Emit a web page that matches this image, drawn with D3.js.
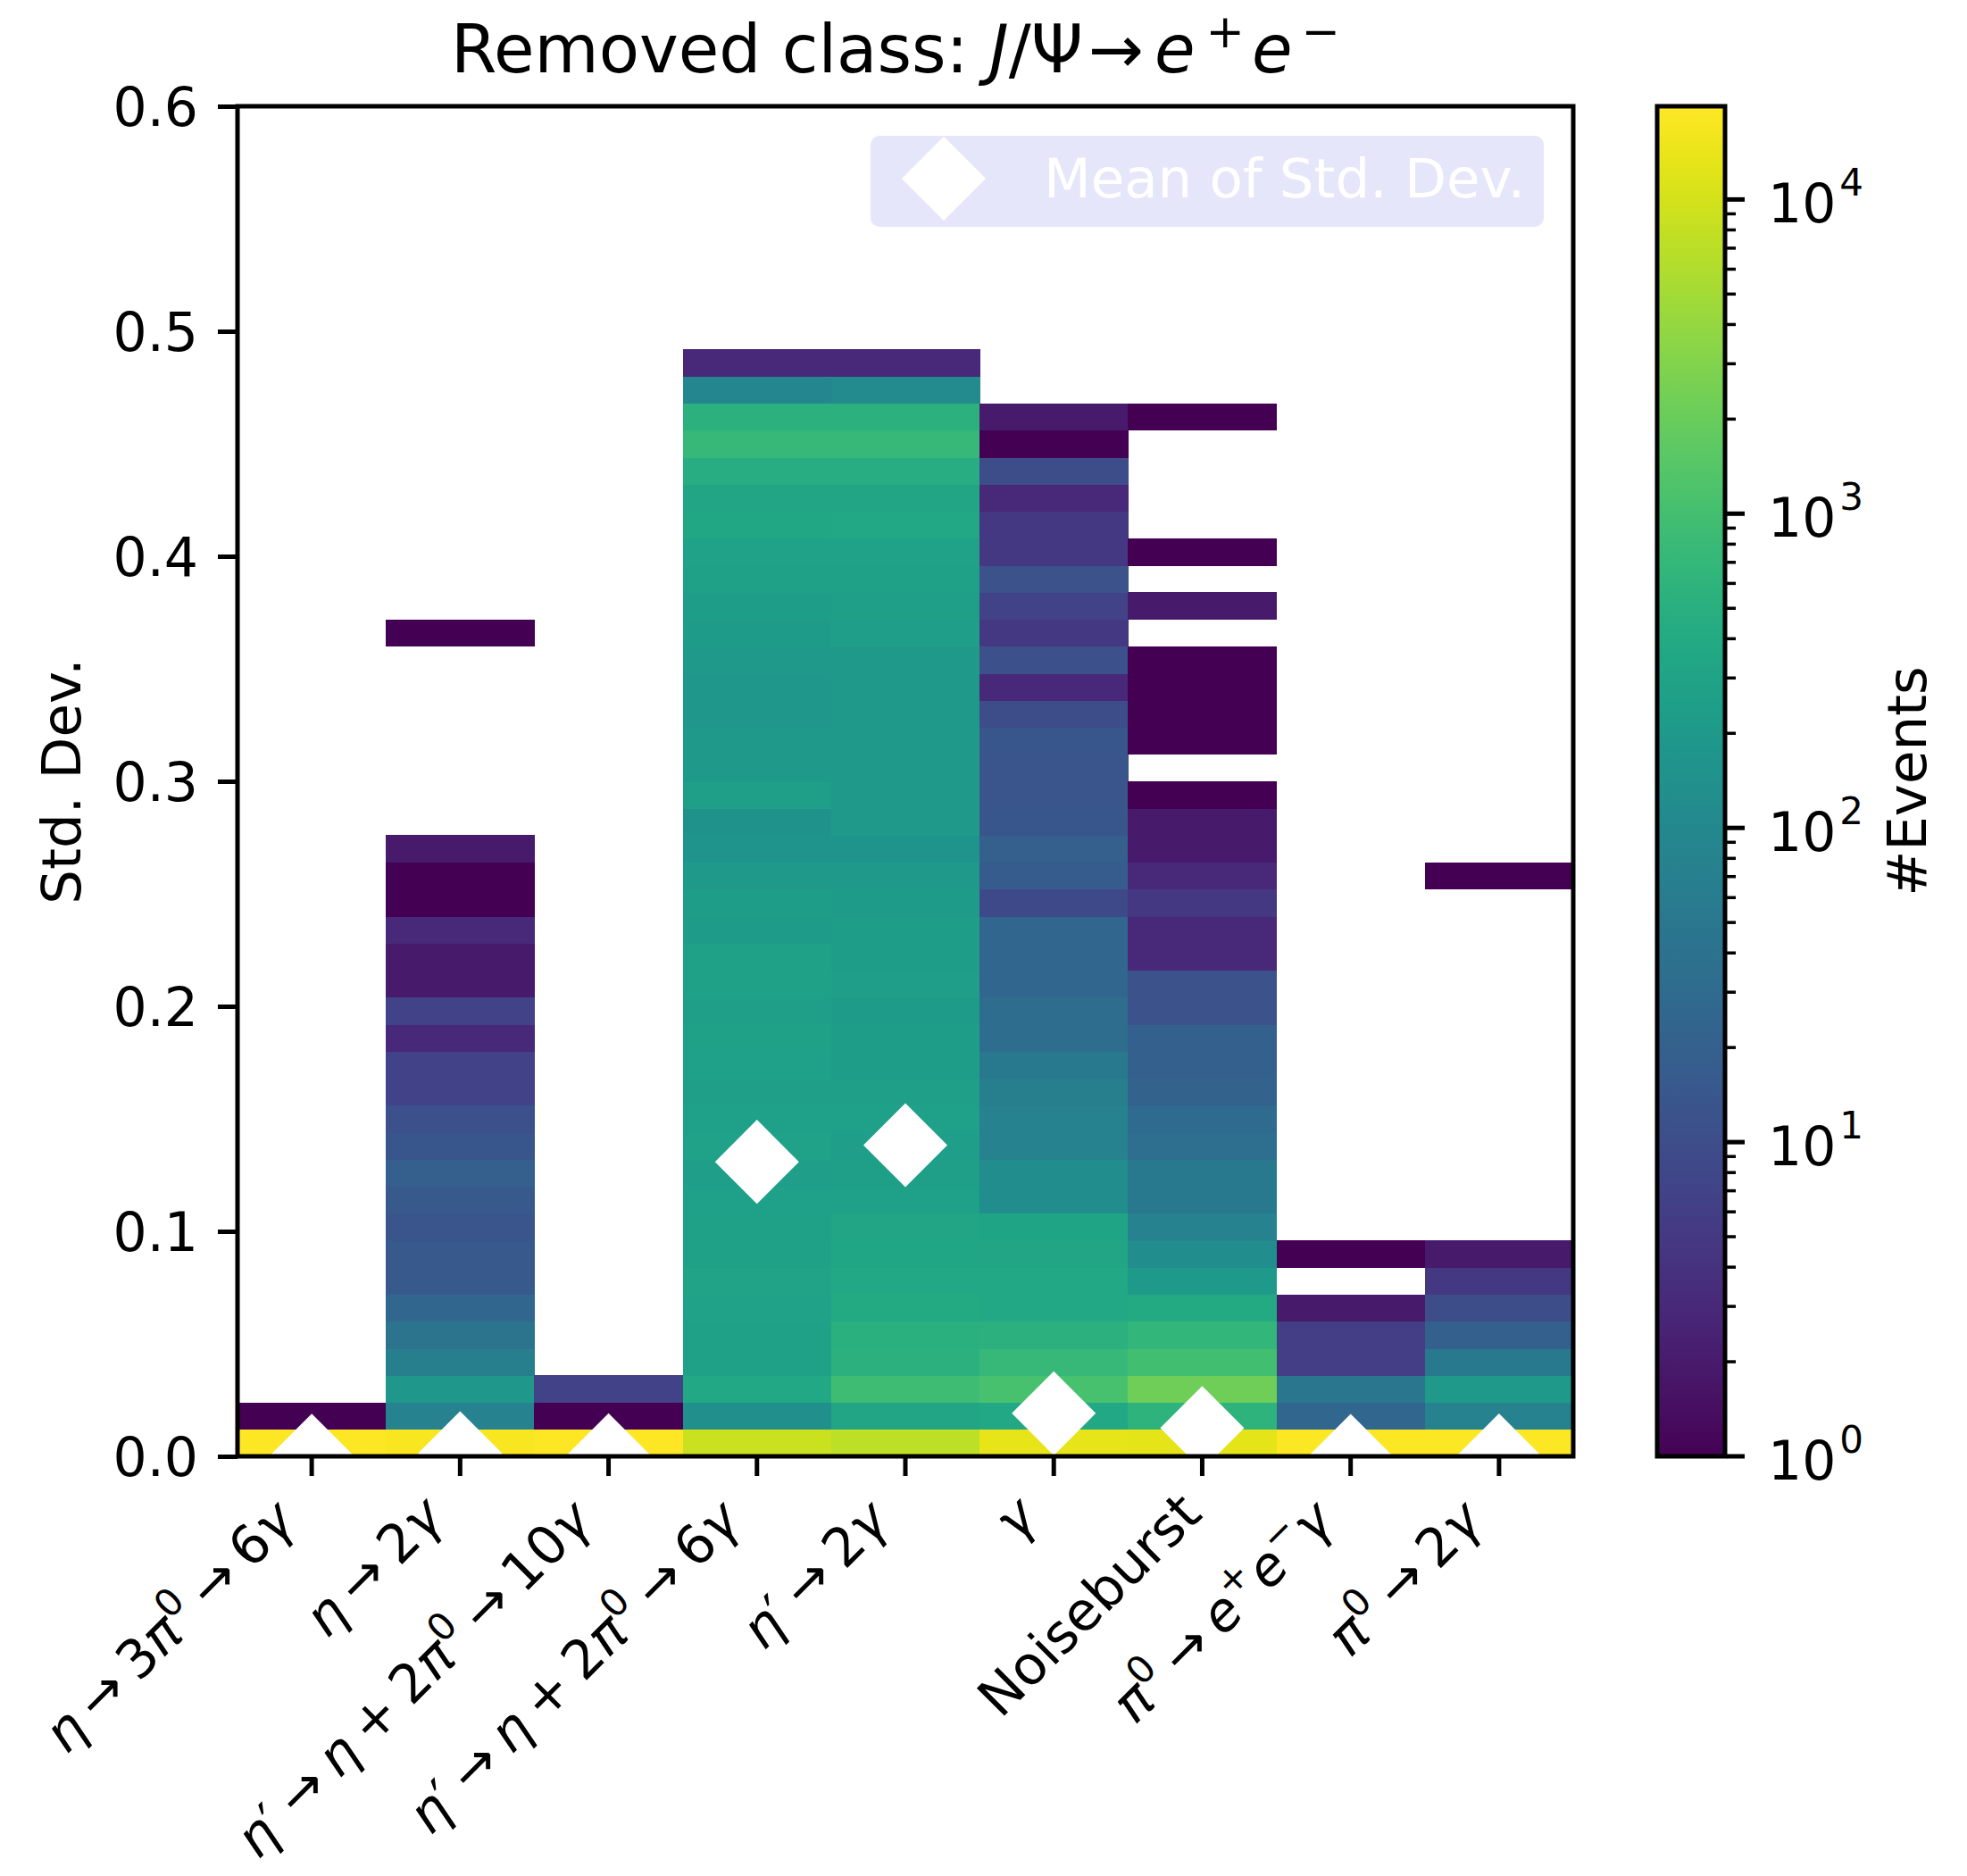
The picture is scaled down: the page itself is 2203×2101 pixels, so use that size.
<!DOCTYPE html>
<html>
<head>
<meta charset="utf-8">
<script src="https://cdn.jsdelivr.net/npm/d3@7"></script>
<style>
  body { margin: 0; background: #ffffff; }
  svg text { font-family: "DejaVu Sans", sans-serif; }
</style>
</head>
<body>
<svg id="chart"></svg>
<script>
// ---- data -------------------------------------------------------------
// event classes (x categories)
const categories = [
  "eta_3pi0_6g", "eta_2g", "etap_eta2pi0_10g", "etap_eta2pi0_6g",
  "etap_2g", "gamma", "noiseburst", "pi0_eeg", "pi0_2g"
];
// tick labels: a leading "$" marks math text, "^" raises the next character
const tickLabels = [
  "$η → 3π^0 → 6γ",
  "$η → 2γ",
  "$η′ → η + 2π^0 → 10γ",
  "$η′ → η + 2π^0 → 6γ",
  "$η′ → 2γ",
  "$γ",
  "Noiseburst",
  "$π^0 → e^+e^−γ",
  "$π^0 → 2γ"
];

// histogram of the per-event standard deviation: bins of width 0.012 starting at 0
const binWidth = 0.012;
const countsEta3Pi0 = [19500, 1];
const countsEta2g = [17800, 78, 190, 70, 43, 26, 15, 15, 13, 15, 19, 14, 11, 7, 7, 3, 7, 2, 2, 3, 1, 1, 2,
  0, 0, 0, 0, 0, 0, 0, 1];
const countsEtaP10g = [19800, 1, 7];
const countsEtaP6g = [8900, 140, 380, 290, 280, 300, 310, 280, 280, 270, 250, 300, 270, 260, 270, 280, 255, 280,
  290, 230, 235, 215, 165, 155, 255, 215, 210, 185, 195, 210, 230, 240, 280, 300, 360, 340, 470, 760, 560, 95, 3];
const countsEtaP2g = [7400, 330, 920, 560, 540, 400, 380, 350, 340, 270, 260, 250, 265, 255, 240, 240, 230, 245,
  240, 240, 230, 210, 170, 215, 215, 215, 215, 200, 210, 210, 250, 260, 280, 300, 380, 340, 470, 760, 560, 110, 3];
const countsGamma = [13500, 380, 1100, 760, 560, 380, 380, 330, 320, 130, 130, 80, 80, 70, 55, 33, 33, 25, 25, 25,
  9, 17, 19, 14, 13, 13, 14, 10, 3, 11, 5, 7, 12, 5, 5, 3, 10, 1, 2];
const countsNoiseburst = [13000, 600, 2200, 1000, 680, 400, 210, 130, 80, 55, 55, 35, 30, 22, 20, 20, 12, 12, 3, 3,
  5, 3, 2, 2, 1, 0, 1, 1, 1, 1, 0, 2, 0, 1, 0, 0, 0, 0, 1];
const countsPi0eeg = [18500, 25, 48, 6, 6, 2, 0, 1];
const countsPi02g = [19000, 80, 210, 55, 20, 10, 5, 2, 0, 0, 0, 0, 0, 0, 0, 0, 0, 0, 0, 0, 0, 1];

// mean of the standard deviation per class
const meanStd = [0.0003, 0.0014, 0.0005, 0.1309, 0.1383, 0.0191, 0.0126, 0.0002, 0.0004];

const yTicks = [0, 0.1, 0.2, 0.3, 0.4, 0.5, 0.6];
const cbarMajorTicks = [1, 10, 100, 1000, 10000];

// ---- layout -----------------------------------------------------------
const W = 2203, H = 2101;
const plot = { left: 266, right: 1762, top: 119, bottom: 1631 };
const cbar = { left: 1856, right: 1932 };
const fsTick = 60, fsLabel = 61, fsTitle = 74;

const svg = d3.select("#chart").attr("width", W).attr("height", H);

const classCounts = [countsEta3Pi0, countsEta2g, countsEtaP10g, countsEtaP6g, countsEtaP2g,
  countsGamma, countsNoiseburst, countsPi0eeg, countsPi02g];

const cells = [];
classCounts.forEach((arr, i) => arr.forEach((c, j) => {
  if (c > 0) cells.push({ cat: categories[i], lo: j * binWidth, hi: (j + 1) * binWidth, count: c });
}));
const vmax = d3.max(cells, d => d.count);

const x = d3.scaleBand().domain(categories).range([plot.left, plot.right]).padding(0);
const y = d3.scaleLinear().domain([0, 0.6]).range([plot.bottom, plot.top]);
const color = d3.scaleSequentialLog(d3.interpolateViridis).domain([1, vmax]);

// clip for everything drawn inside the axes
svg.append("defs").append("clipPath").attr("id", "plotClip")
  .append("rect")
  .attr("x", plot.left).attr("y", plot.top)
  .attr("width", plot.right - plot.left).attr("height", plot.bottom - plot.top);

const inner = svg.append("g").attr("clip-path", "url(#plotClip)");

// 2D histogram cells
inner.append("g").selectAll("rect").data(cells).join("rect")
  .attr("x", d => x(d.cat))
  .attr("width", x.bandwidth() + 0.5)
  .attr("y", d => y(d.hi))
  .attr("height", d => y(d.lo) - y(d.hi) + 0.5)
  .attr("fill", d => color(d.count))
  .attr("shape-rendering", "crispEdges");

// mean markers: squares turned 45 degrees
const diamond = d3.symbol().type(d3.symbolSquare).size(4420);
inner.append("g").selectAll("path").data(meanStd).join("path")
  .attr("d", diamond)
  .attr("transform", (d, i) => `translate(${x(categories[i]) + x.bandwidth() / 2},${y(d)}) rotate(45)`)
  .attr("fill", "#ffffff");

// ---- axes -------------------------------------------------------------
const yAxis = d3.axisLeft(y).tickValues(yTicks).tickFormat(d3.format(".1f"))
  .tickSize(22).tickPadding(22);
const gy = svg.append("g").attr("transform", `translate(${plot.left},0)`).call(yAxis);
gy.select(".domain").remove();
gy.selectAll(".tick line").attr("stroke", "#000").attr("stroke-width", 5);
gy.selectAll(".tick text").attr("font-size", fsTick).attr("font-family", "DejaVu Sans")
  .attr("fill", "#000").attr("dy", "0.35em");

const xAxis = d3.axisBottom(x).tickSize(22).tickFormat("");
const gx = svg.append("g").attr("transform", `translate(0,${plot.bottom})`).call(xAxis);
gx.select(".domain").remove();
gx.selectAll(".tick line").attr("stroke", "#000").attr("stroke-width", 5);
gx.selectAll(".tick text").remove();

// writes a label string into a <text>, handling italics, raised characters
// and the narrower spacing of math text
function writeRich(textSel, str, fs, supScale, supRise, gap) {
  const math = str.startsWith("$");
  const s = math ? str.slice(1) : str;
  const runs = [];
  const chars = Array.from(s);
  let pendingGap = 0;
  for (let k = 0; k < chars.length; k++) {
    let ch = chars[k], sup = false;
    if (math && ch === " ") { pendingGap += gap; continue; }
    if (math && ch === "^") { sup = true; ch = chars[++k]; }
    const ital = math && /[A-Za-zα-ω]/.test(ch);
    const last = runs[runs.length - 1];
    if (last && last.sup === sup && last.ital === ital && pendingGap === 0) last.t += ch;
    else runs.push({ t: ch, sup, ital, dx: pendingGap });
    pendingGap = 0;
  }
  let raised = false;
  runs.forEach(r => {
    const ts = textSel.append("tspan").text(r.t)
      .attr("font-style", r.ital ? "italic" : "normal");
    if (r.dx) ts.attr("dx", r.dx);
    if (r.sup) {
      ts.attr("font-size", fs * supScale);
      if (!raised) { ts.attr("dy", -supRise); raised = true; }
    } else {
      ts.attr("font-size", fs);
      if (raised) { ts.attr("dy", supRise); raised = false; }
    }
  });
  return math;
}

// rotated category labels, right end hanging under each tick
tickLabels.forEach((lab, i) => {
  const cx = x(categories[i]) + x.bandwidth() / 2;
  const math = lab.startsWith("$");
  const raisedPart = /[\^′]/.test(lab);
  const ex = math ? cx - 16 : cx + 2;
  const ey = math ? (raisedPart ? 1707 : 1703) : 1698;
  const t = svg.append("text")
    .attr("x", ex).attr("y", ey)
    .attr("text-anchor", "end")
    .attr("fill", "#000")
    .attr("transform", `rotate(-45,${ex},${ey})`);
  writeRich(t, lab, fsTick, 0.7, 0.42 * fsTick, 0.22 * fsTick);
});

// axes frame
svg.append("rect")
  .attr("x", plot.left).attr("y", plot.top)
  .attr("width", plot.right - plot.left).attr("height", plot.bottom - plot.top)
  .attr("fill", "none").attr("stroke", "#000").attr("stroke-width", 5);

// y label
svg.append("text")
  .attr("transform", `translate(90,875) rotate(-90)`)
  .attr("text-anchor", "middle").attr("font-size", fsLabel).attr("fill", "#000")
  .text("Std. Dev.");

// title
const title = svg.append("text").attr("x", 505).attr("y", 81)
  .attr("text-anchor", "start").attr("font-size", fsTitle).attr("fill", "#000");
title.append("tspan").text("Removed class: ");
title.append("tspan").attr("font-style", "italic").text("J");
title.append("tspan").text("/Ψ");
title.append("tspan").attr("dx", 6).text("→");
title.append("tspan").attr("dx", 12).attr("font-style", "italic").text("e");
title.append("tspan").attr("font-size", fsTitle * 0.7).attr("dy", -28).attr("dx", 12).text("+");
title.append("tspan").attr("font-style", "italic").attr("dy", 28).attr("dx", 8).text("e");
title.append("tspan").attr("font-size", fsTitle * 0.7).attr("dy", -28).attr("dx", 10).text("−");

// legend
const leg = svg.append("g");
leg.append("rect").attr("x", 975).attr("y", 152).attr("width", 754).attr("height", 102)
  .attr("rx", 10).attr("fill", "#e6e6fa");
leg.append("path").attr("d", diamond)
  .attr("transform", "translate(1057,200) rotate(45)").attr("fill", "#ffffff");
leg.append("text").attr("x", 1169).attr("y", 221).attr("font-size", fsLabel)
  .attr("fill", "#ffffff").text("Mean of Std. Dev.");

// ---- colour bar -------------------------------------------------------
const cy = d3.scaleLog().domain([1, vmax]).range([plot.bottom, plot.top]);
const grad = svg.select("defs").append("linearGradient").attr("id", "cbarGrad")
  .attr("x1", 0).attr("y1", 1).attr("x2", 0).attr("y2", 0);
d3.range(0, 1.0001, 1 / 64).forEach(t => {
  grad.append("stop").attr("offset", t).attr("stop-color", d3.interpolateViridis(t));
});
svg.append("rect")
  .attr("x", cbar.left).attr("y", plot.top)
  .attr("width", cbar.right - cbar.left).attr("height", plot.bottom - plot.top)
  .attr("fill", "url(#cbarGrad)").attr("stroke", "#000").attr("stroke-width", 5);

const minorTicks = [];
cbarMajorTicks.forEach(m => d3.range(2, 10).forEach(k => { if (m * k <= vmax) minorTicks.push(m * k); }));
const gc = svg.append("g");
gc.selectAll("line.minor").data(minorTicks).join("line").attr("class", "minor")
  .attr("x1", cbar.right + 2).attr("x2", cbar.right + 12)
  .attr("y1", d => cy(d)).attr("y2", d => cy(d))
  .attr("stroke", "#000").attr("stroke-width", 3.5);
gc.selectAll("line.major").data(cbarMajorTicks).join("line").attr("class", "major")
  .attr("x1", cbar.right + 2).attr("x2", cbar.right + 22)
  .attr("y1", d => cy(d)).attr("y2", d => cy(d))
  .attr("stroke", "#000").attr("stroke-width", 5);
cbarMajorTicks.forEach(v => {
  const t = gc.append("text").attr("x", 1980).attr("y", cy(v) + 26)
    .attr("font-size", fsTick).attr("fill", "#000");
  t.append("tspan").text("10");
  t.append("tspan").attr("font-size", fsTick * 0.7).attr("dy", -30).attr("dx", 4)
    .text(String(Math.round(Math.log10(v))));
});
svg.append("text")
  .attr("transform", `translate(2157,875) rotate(-90)`)
  .attr("text-anchor", "middle").attr("font-size", fsLabel).attr("fill", "#000")
  .text("#Events");
</script>
</body>
</html>
